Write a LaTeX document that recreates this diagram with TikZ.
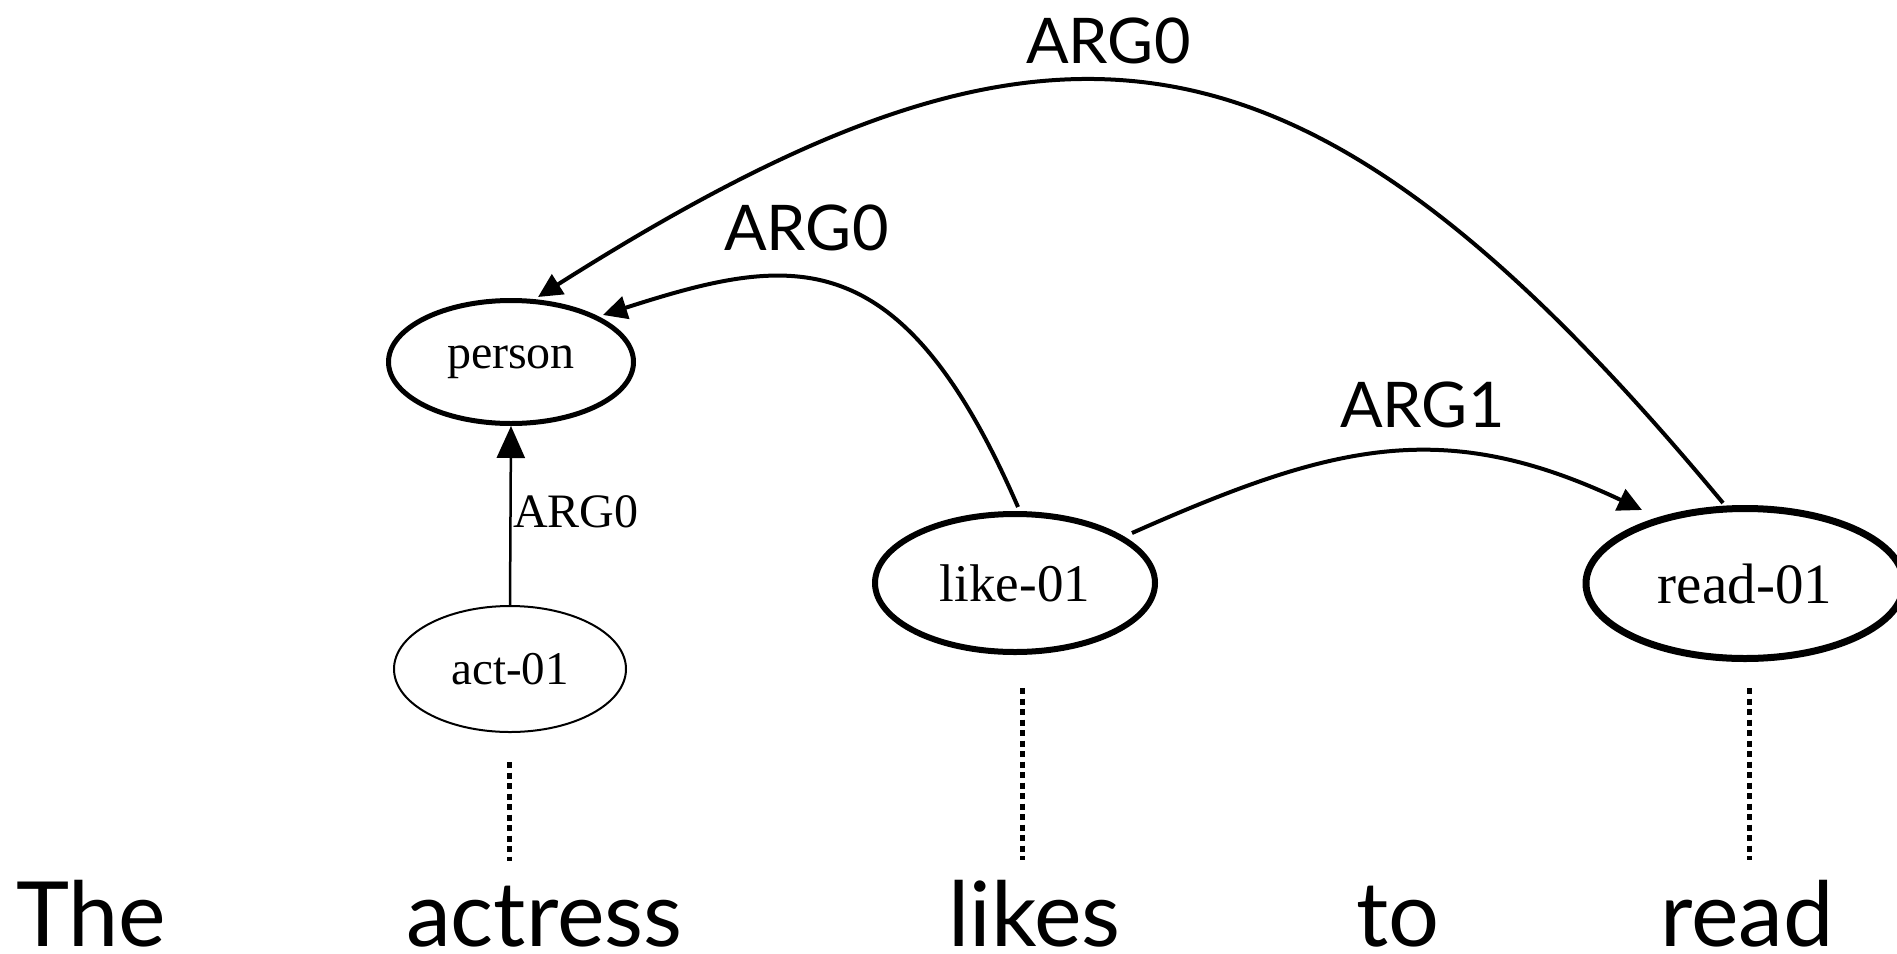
\documentclass[tikz,border=0pt]{standalone}
\usepackage{fontspec}
\setmainfont{Lato}
\newfontfamily\amrfont{Liberation Serif}
\usetikzlibrary{arrows.meta,shapes.geometric}

\begin{document}
\begin{tikzpicture}[x=1pt,y=-1pt,
  concept/.style={ellipse, draw, inner sep=0pt, font=\amrfont\fontsize{48}{52}\selectfont},
  cfont/.style={font=\amrfont\fontsize{#1}{#1}\selectfont},
  focus/.style={concept, line width=5pt},
  minor/.style={concept, line width=2pt},
  rel/.style={line width=4pt, -{Triangle[length=24pt,width=23pt]}},
  attr/.style={line width=2.5pt, -{Triangle[length=32pt,width=28pt]}},
  edgelabel/.style={anchor=base west, inner sep=0pt, font=\fontsize{63}{66}\selectfont},
  serlabel/.style={anchor=base west, inner sep=0pt, font=\amrfont\fontsize{48}{52}\selectfont},
  word/.style={anchor=base west, inner sep=0pt, font=\fontsize{90}{96}\selectfont},
  alignline/.style={line width=5pt, dash pattern=on 6pt off 4.5pt}
]
\useasboundingbox (0,0) rectangle (1897,953);

% concept nodes
\node[focus, minimum width=245pt, minimum height=123pt] (person) at (511,362) {person};
\node[minor, minimum width=232pt, minimum height=126pt, cfont=47] (act) at (510,669) {act-01};
\node[focus, line width=6pt, minimum width=280pt, minimum height=138pt, cfont=53] (like) at (1015,583) {like-01};
\node[focus, line width=7pt, minimum width=318pt, minimum height=150pt, cfont=57] (read) at (1745,583.5) {read-01};

% relations
\draw[attr] (act.north) -- (person.south);
\node[serlabel] (lblact) at (513,527) {ARG0};

\draw[rel] ([shift={(3,-76)}]like.center)
  .. controls (900,235) and (790,255) .. ([shift={(92,-47)}]person.center);
\node[edgelabel] (lbllike) at (724,250) {ARG0};

\draw[rel] ([shift={(-22,-80.5)}]read.center)
  .. controls (1301,-5) and (1053,-29) .. ([shift={(27,-65)}]person.center);
\node[edgelabel] (lblread) at (1026,63) {ARG0};

\draw[rel] ([shift={(117,-50)}]like.center)
  .. controls (1333,444) and (1443,416) .. ([shift={(-103,-73.5)}]read.center);
\node[edgelabel] (lblarg1) at (1340,427) {ARG1};

% sentence
\node[word] (w1) at (16,946) {The};
\node[word] (w2) at (406,946) {actress};
\node[word] (w3) at (948,946) {likes};
\node[word] (w4) at (1356,946) {to};
\node[word] (w5) at (1660,946) {read};

% alignment links
\coordinate (a1) at (509,762);  \coordinate (b1) at (509,861);
\coordinate (a2) at (1022,688); \coordinate (b2) at (1022,860);
\coordinate (a3) at (1749,688); \coordinate (b3) at (1749,860);
\draw[alignline] (a1) -- (b1);
\draw[alignline] (a2) -- (b2);
\draw[alignline] (a3) -- (b3);
\end{tikzpicture}
\end{document}
